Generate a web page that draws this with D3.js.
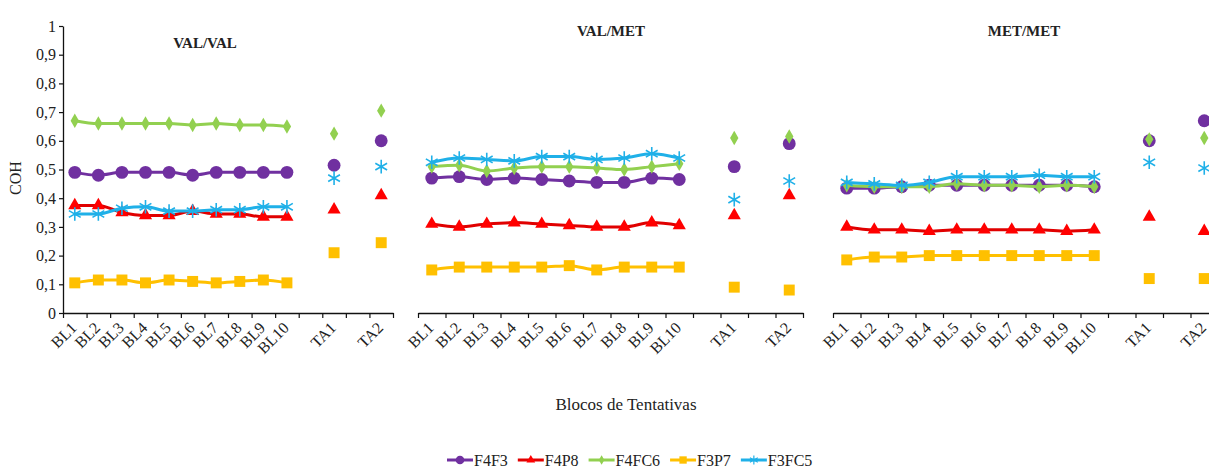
<!DOCTYPE html>
<html>
<head>
<meta charset="utf-8">
<script src="https://cdn.jsdelivr.net/npm/d3@7"></script>
<style>
  body { margin: 0; background: #fff; }
  svg text { font-family: "Liberation Serif", "Times New Roman", Times, "DejaVu Serif", serif !important; fill: #222; }
</style>
</head>
<body>
<div id="chart"></div>
<script>
// categories (two empty slots are gaps before TA1 and TA2)
var xLabels = ["BL1","BL2","BL3","BL4","BL5","BL6","BL7","BL8","BL9","BL10","","TA1","","TA2"];
var blSlots = [0,1,2,3,4,5,6,7,8,9];
var taSlots = [11, 13];
var yTicks = [0,0.1,0.2,0.3,0.4,0.5,0.6,0.7,0.8,0.9,1];
var panelTitles = ["VAL/VAL", "VAL/MET", "MET/MET"];
var seriesNames = ["F4F3", "F4P8", "F4FC6", "F3P7", "F3FC5"];

// VAL/VAL
var vv_F4F3  = [0.49,0.48,0.49,0.49,0.49,0.48,0.49,0.49,0.49,0.49];
var vv_F4P8  = [0.375,0.375,0.35,0.34,0.34,0.355,0.345,0.345,0.335,0.335];
var vv_F4FC6 = [0.67,0.66,0.66,0.66,0.66,0.655,0.66,0.655,0.655,0.65];
var vv_F3P7  = [0.105,0.115,0.115,0.105,0.115,0.11,0.105,0.11,0.115,0.105];
var vv_F3FC5 = [0.345,0.345,0.365,0.37,0.355,0.355,0.36,0.36,0.37,0.37];
var vv_TA = [[0.515,0.60],[0.36,0.41],[0.625,0.705],[0.21,0.245],[0.47,0.51]];

// VAL/MET
var vm_F4F3  = [0.47,0.475,0.465,0.47,0.465,0.46,0.455,0.455,0.47,0.465];
var vm_F4P8  = [0.31,0.30,0.31,0.315,0.31,0.305,0.30,0.30,0.315,0.305];
var vm_F4FC6 = [0.51,0.515,0.495,0.505,0.51,0.51,0.505,0.50,0.51,0.52];
var vm_F3P7  = [0.15,0.16,0.16,0.16,0.16,0.165,0.15,0.16,0.16,0.16];
var vm_F3FC5 = [0.525,0.54,0.535,0.53,0.545,0.545,0.535,0.54,0.555,0.54];
var vm_TA = [[0.51,0.59],[0.34,0.41],[0.61,0.615],[0.09,0.08],[0.395,0.46]];

// MET/MET
var mm_F4F3  = [0.435,0.435,0.44,0.445,0.445,0.445,0.445,0.445,0.445,0.44];
var mm_F4P8  = [0.30,0.29,0.29,0.285,0.29,0.29,0.29,0.29,0.285,0.29];
var mm_F4FC6 = [0.445,0.44,0.44,0.44,0.45,0.445,0.445,0.44,0.445,0.44];
var mm_F3P7  = [0.185,0.195,0.195,0.20,0.20,0.20,0.20,0.20,0.20,0.20];
var mm_F3FC5 = [0.455,0.45,0.445,0.455,0.475,0.475,0.475,0.48,0.475,0.475];
var mm_TA = [[0.60,0.67],[0.335,0.285],[0.605,0.61],[0.12,0.12],[0.525,0.505]];

var width = 1209, height = 474;
var serif = "'Liberation Serif', 'Times New Roman', Times, 'DejaVu Serif', serif";

var style = {
  F4F3:  {line: "#7030A0", fill: "#7030A0", sym: d3.symbolCircle, size: 130},
  F4P8:  {line: "#E00000", fill: "#FF0000", sym: d3.symbolTriangle, size: 75},
  F4FC6: {line: "#92D050", fill: "#92D050", sym: d3.symbolDiamond, size: 60},
  F3P7:  {line: "#FFC000", fill: "#FFC000", sym: d3.symbolSquare, size: 120},
  F3FC5: {line: "#1FB0E8", fill: "none", sym: d3.symbolAsterisk, size: 130}
};

var panels = [
  {title: panelTitles[0], x0: 63,  x1: 393,  tx: 205,  ty: 48, yAxis: true,
   bl: [vv_F4F3, vv_F4P8, vv_F4FC6, vv_F3P7, vv_F3FC5], ta: vv_TA},
  {title: panelTitles[1], x0: 418, x1: 803,  tx: 611,  ty: 36, yAxis: false,
   bl: [vm_F4F3, vm_F4P8, vm_F4FC6, vm_F3P7, vm_F3FC5], ta: vm_TA},
  {title: panelTitles[2], x0: 833, x1: 1218, tx: 1024, ty: 36, yAxis: false,
   bl: [mm_F4F3, mm_F4P8, mm_F4FC6, mm_F3P7, mm_F3FC5], ta: mm_TA}
];

var svg = d3.select("#chart").append("svg")
    .attr("width", width)
    .attr("height", height)
    .attr("font-family", serif);

var y = d3.scaleLinear().domain([0, 1]).range([313, 26]);

function marker(g, name, cx, cy) {
  var s = style[name];
  var p = g.append("path")
      .attr("d", d3.symbol().type(s.sym).size(s.size)())
      .attr("transform", "translate(" + cx + "," + cy + ")");
  if (s.sym === d3.symbolAsterisk) {
    p.attr("fill", "none").attr("stroke", s.line).attr("stroke-width", 1.6);
  } else {
    p.attr("fill", s.fill);
  }
}

panels.forEach(function(p) {
  var x = d3.scaleLinear().domain([0, xLabels.length]).range([p.x0, p.x1]);
  var g = svg.append("g");

  // x axis, ticks on slot boundaries
  var xa = g.append("g")
      .attr("transform", "translate(0," + y(0) + ")")
      .call(d3.axisBottom(x).tickValues(d3.range(xLabels.length + 1)).tickFormat("").tickSize(5).tickSizeOuter(0));
  xa.select(".domain").attr("stroke", "#111").attr("stroke-width", 1.3);
  xa.selectAll(".tick line").attr("stroke", "#111").attr("stroke-width", 1.2);

  // rotated category labels
  g.selectAll(".xl")
      .data(xLabels)
      .enter().append("text")
      .attr("class", "xl")
      .attr("text-anchor", "end")
      .attr("font-size", "16px")
      .attr("dy", "0.7em")
      .attr("transform", function(d, i) {
        return "translate(" + (x(i + 0.5) - 5) + "," + (y(0) + 8) + ") rotate(-45)";
      })
      .text(function(d) { return d; });

  if (p.yAxis) {
    var ya = g.append("g")
        .attr("transform", "translate(" + p.x0 + ",0)")
        .call(d3.axisLeft(y).tickValues(yTicks).tickSize(4).tickSizeOuter(0)
              .tickFormat(function(d) { return String(d).replace(".", ","); }));
    ya.attr("font-family", serif);
    ya.select(".domain").attr("stroke", "#111").attr("stroke-width", 1.3);
    ya.selectAll(".tick line").attr("stroke", "#111").attr("stroke-width", 1.2);
    ya.selectAll(".tick text")
        .attr("font-size", "16px")
        .attr("fill", "#222")
        .attr("x", -7);
  }

  g.append("text")
      .attr("x", p.tx).attr("y", p.ty)
      .attr("text-anchor", "middle")
      .attr("font-size", "15px")
      .attr("font-weight", "bold")
      .text(p.title);

  var line = d3.line()
      .x(function(d, i) { return x(blSlots[i] + 0.5); })
      .y(function(d) { return y(d); })
      .curve(d3.curveMonotoneX);

  seriesNames.forEach(function(name, k) {
    var vals = p.bl[k];
    g.append("path")
        .datum(vals)
        .attr("d", line)
        .attr("fill", "none")
        .attr("stroke", style[name].line)
        .attr("stroke-width", 3);
    vals.forEach(function(v, i) { marker(g, name, x(blSlots[i] + 0.5), y(v)); });
    p.ta[k].forEach(function(v, j) { marker(g, name, x(taSlots[j] + 0.5), y(v)); });
  });
});

// y title
svg.append("text")
    .attr("transform", "translate(21,178) rotate(-90)")
    .attr("text-anchor", "middle")
    .attr("font-size", "16px")
    .text("COH");

// x title
svg.append("text")
    .attr("x", 626).attr("y", 410)
    .attr("text-anchor", "middle")
    .attr("font-size", "17px")
    .text("Blocos de Tentativas");

// legend
var legend = svg.append("g");
var lx = 447, ly = 460;
seriesNames.forEach(function(name) {
  var item = legend.append("g").attr("transform", "translate(" + lx + "," + ly + ")");
  item.append("line")
      .attr("x1", 0).attr("x2", 26)
      .attr("stroke", style[name].line)
      .attr("stroke-width", 3);
  var m = item.append("path")
      .attr("d", d3.symbol().type(style[name].sym).size(style[name].size * 0.45)())
      .attr("transform", "translate(13,0)");
  if (style[name].sym === d3.symbolAsterisk) {
    m.attr("fill", "none").attr("stroke", style[name].line).attr("stroke-width", 1.2);
  } else {
    m.attr("fill", style[name].fill);
  }
  var t = item.append("text")
      .attr("x", 27).attr("dy", "0.35em")
      .attr("font-size", "16px")
      .text(name);
  lx += 27 + t.node().getComputedTextLength() + 10;
});
</script>
</body>
</html>
